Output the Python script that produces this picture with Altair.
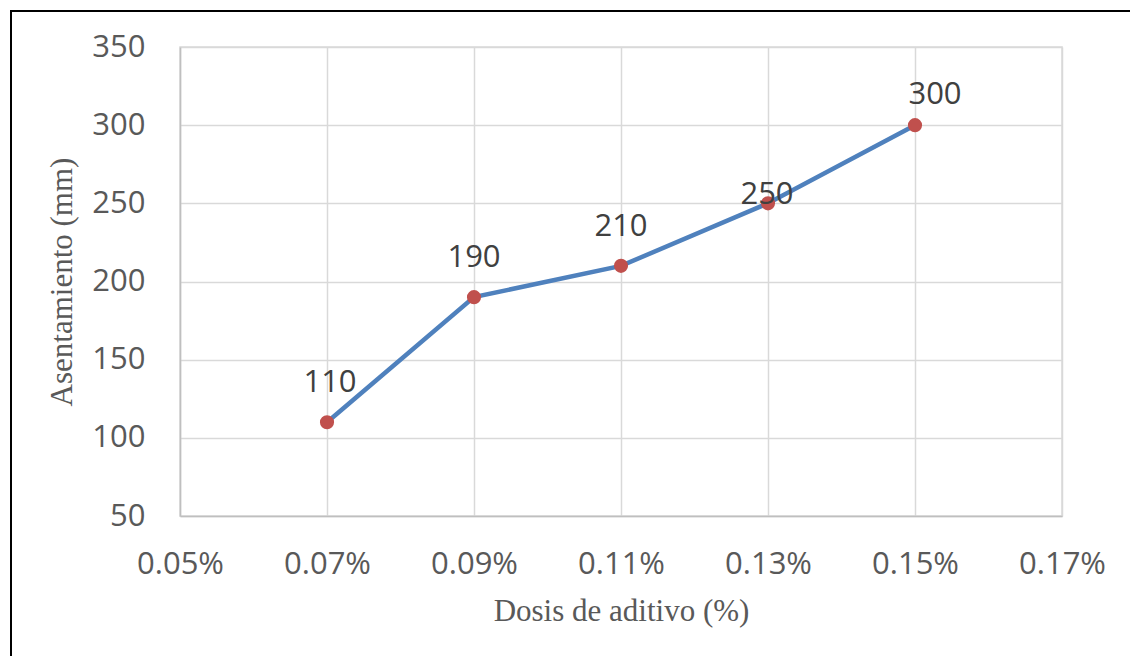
import altair as alt
import pandas as pd

# Dosis de aditivo (%) y asentamiento medido (mm)
dosis = [0.07, 0.09, 0.11, 0.13, 0.15]
asentamiento = [110, 190, 210, 250, 300]
x_ticks = [0.05, 0.07, 0.09, 0.11, 0.13, 0.15, 0.17]
y_ticks = [50, 100, 150, 200, 250, 300, 350]

# desplazamiento (dx, dy) de cada etiqueta de valor respecto a su punto
label_offsets = {110: (3, -39), 190: (0, -39), 210: (0, -39), 250: (-1, -8), 300: (20, -30)}

df = pd.DataFrame({"dosis": dosis, "asentamiento": asentamiento})

W, H = 882, 469
LEFT, TOP = 180, 47
TICK_FONT = "Open Sans"
SERIF = "Liberation Serif"

x_enc = alt.X(
    "dosis:Q",
    scale=alt.Scale(domain=[0.05, 0.17], nice=False, zero=False),
    axis=alt.Axis(
        values=x_ticks,
        labelExpr="format(datum.value, '.2f') + '%'",
        title="Dosis de aditivo (%)",
        titleFont=SERIF,
        titleFontSize=31,
        titleFontWeight="normal",
        titleColor="#595959",
        titlePadding=17,
        labelFont=TICK_FONT,
        labelFontSize=31,
        labelColor="#595959",
        labelPadding=33,
        ticks=False,
        domainColor="#BFBFBF",
        domainWidth=1.5,
        gridColor="#D9D9D9",
        gridWidth=1.5,
        labelFlush=False,
    ),
)
y_enc = alt.Y(
    "asentamiento:Q",
    scale=alt.Scale(domain=[50, 350], nice=False, zero=False),
    axis=alt.Axis(
        values=y_ticks,
        title="Asentamiento (mm)",
        titleFont=SERIF,
        titleFontSize=31,
        titleFontWeight="normal",
        titleColor="#595959",
        titlePadding=13,
        labelFont=TICK_FONT,
        labelFontSize=31,
        labelColor="#595959",
        labelPadding=35,
        ticks=False,
        domainColor="#BFBFBF",
        domainWidth=1.5,
        gridColor="#D9D9D9",
        gridWidth=1.5,
        labelFlush=False,
    ),
)

base = alt.Chart(df)

line = base.mark_line(color="#4F81BD", strokeWidth=4.5).encode(x=x_enc, y=y_enc)
points = base.mark_circle(color="#C0504D", size=200, opacity=1).encode(x="dosis:Q", y="asentamiento:Q")

labels = []
for val, (dx, dy) in label_offsets.items():
    labels.append(
        base.transform_filter(alt.datum.asentamiento == val)
        .mark_text(font=TICK_FONT, fontSize=31, color="#404040", dx=dx, dy=dy, baseline="middle", align="center")
        .encode(x="dosis:Q", y="asentamiento:Q", text="asentamiento:Q")
    )

# marco exterior (bordes izquierdo y superior)
frame_left = alt.Chart(df).mark_rule(color="black", strokeWidth=2).encode(
    x=alt.value(11 - LEFT), y=alt.value(10 - TOP), y2=alt.value(656 - TOP)
)
frame_top = alt.Chart(df).mark_rule(color="black", strokeWidth=2).encode(
    y=alt.value(11 - TOP), x=alt.value(10 - LEFT), x2=alt.value(1130 - LEFT)
)

chart = (
    alt.layer(line, points, *labels, frame_left, frame_top)
    .properties(
        width=W,
        height=H,
        autosize=alt.AutoSizeParams(type="none"),
        padding={"left": LEFT, "top": TOP, "right": 1130 - LEFT - W, "bottom": 656 - TOP - H},
        background="white",
    )
    .configure_view(stroke="#D9D9D9", strokeWidth=1.5)
)

chart.save("out.html", embed_options={"renderer": "svg", "actions": False})
